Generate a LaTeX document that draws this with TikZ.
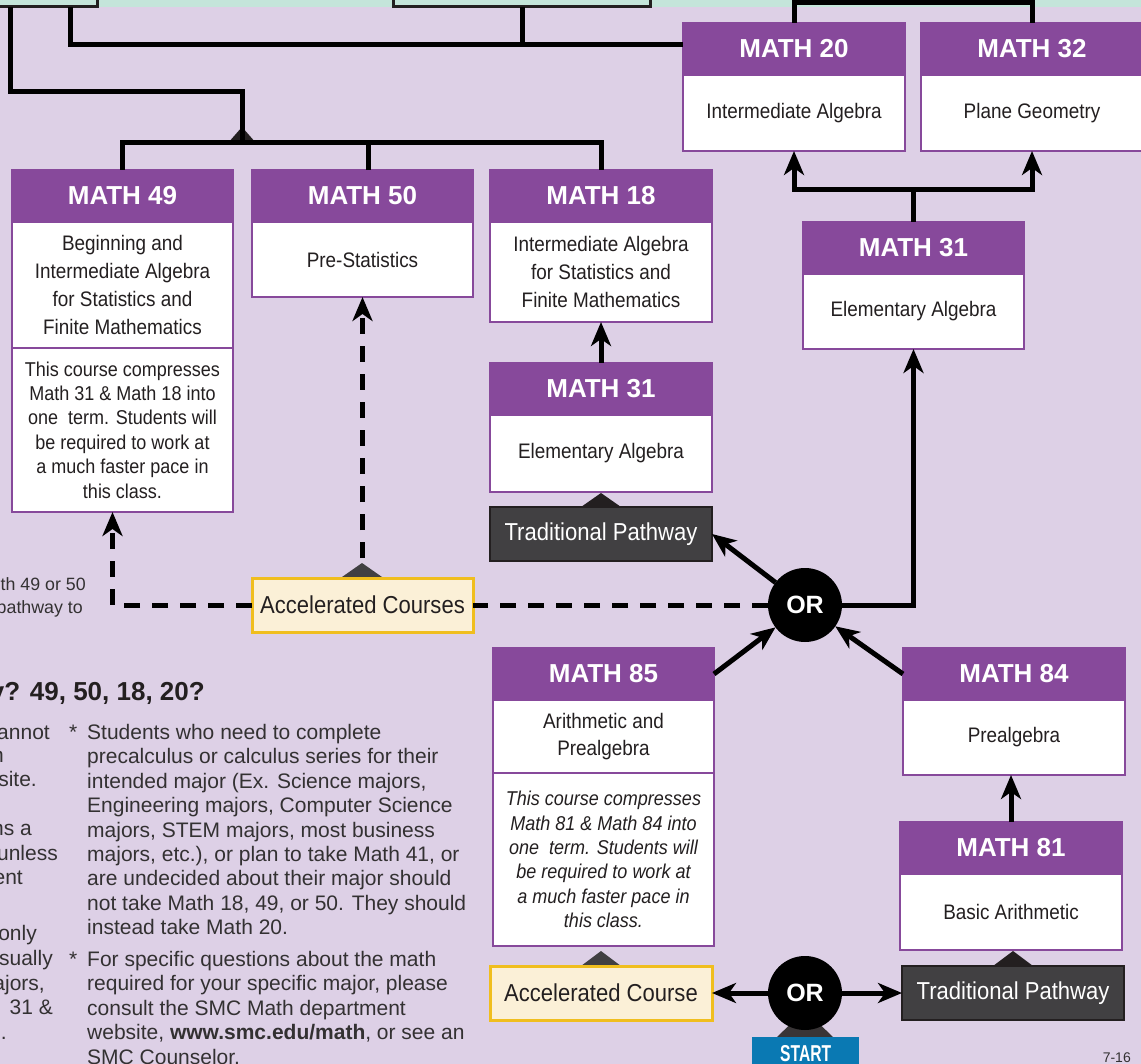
\documentclass[tikz,border=0pt]{standalone}
\usepackage{fontspec}
\setmainfont{Liberation Sans}
\newfontfamily\condfont{Liberation Sans}[FakeStretch=0.9]
\newfontfamily\startfont{Liberation Sans}[FakeStretch=0.68]
\usetikzlibrary{arrows.meta,calc}
\definecolor{bgc}{HTML}{DDD0E6}
\definecolor{mint}{HTML}{C4E5DA}
\definecolor{purp}{HTML}{87499B}
\definecolor{darkbox}{HTML}{414042}
\definecolor{cream}{HTML}{FBF0D7}
\definecolor{gold}{HTML}{F0BE1E}
\definecolor{startblue}{HTML}{0A79B3}
\definecolor{ink}{HTML}{231F20}
\definecolor{txt}{HTML}{333132}
\tikzset{
 hdr/.style={fill=purp, draw=purp, line width=2pt, text=white,
   font=\fontsize{26}{30}\selectfont\bfseries, inner sep=0pt, outer sep=0pt,
   anchor=north west, minimum height=52pt},
 bodybox/.style={fill=white, draw=purp, line width=2.5pt, text=ink,
   font=\condfont\fontsize{21}{27.7}\selectfont, align=center, inner sep=0pt,
   outer sep=0pt, anchor=north},
 notebox/.style={bodybox, font=\condfont\fontsize{20}{24.4}\selectfont},
 pathbox/.style={fill=darkbox, draw=ink, line width=2.5pt, text=white,
   font=\condfont\fontsize{24.5}{28}\selectfont, inner sep=0pt, outer sep=0pt,
   anchor=north west, minimum height=54pt, minimum width=222pt},
 accbox/.style={fill=cream, draw=gold, line width=3pt, text=ink,
   font=\condfont\fontsize{24.5}{28}\selectfont, inner sep=0pt, outer sep=0pt,
   anchor=north west, minimum height=54pt, minimum width=221pt},
 orc/.style={circle, fill=black, text=white, font=\fontsize{25}{28}\selectfont\bfseries,
   minimum size=74pt, inner sep=0pt, outer sep=0pt},
 topbox/.style={draw=ink, fill=mint, line width=3pt, inner sep=0pt, outer sep=0pt, anchor=south west},
 conn/.style={line width=5pt, draw=black},
 arr/.style={conn, -{Stealth[length=24pt, width=20pt, inset=7pt]}},
 dashline/.style={conn, dash pattern=on 16pt off 12pt},
 dasharr/.style={arr, dash pattern=on 16pt off 12pt},
 frag/.style={anchor=base east, inner sep=0pt, text=txt, font=\fontsize{21}{24.4}\selectfont},
 smallfrag/.style={anchor=base east, inner sep=0pt, text=txt, font=\fontsize{17.8}{24}\selectfont},
 note/.style={anchor=north west, inner sep=0pt, text=txt, align=left, font=\fontsize{21}{24.4}\selectfont},
}
\begin{document}
\begin{tikzpicture}[x=1pt,y=-1pt]
\useasboundingbox (0,0) rectangle (1141,1064);
\clip (0,0) rectangle (1141,1064);
\fill[bgc] (0,0) rectangle (1141,1064);
\fill[mint] (0,0) rectangle (1141,7);
\node[topbox, minimum width=102pt, minimum height=24pt] (tlbox) at (-5,7) {};
\node[topbox, minimum width=257pt, minimum height=24pt] (tmbox) at (393,7) {};
\coordinate (h45) at (0,45);
\coordinate (h92) at (0,92);
\coordinate (h143) at (0,143);

% ---- course boxes ----
\node[hdr, minimum width=222pt] (m20h) at (683,23) {MATH 20};
\node[bodybox, minimum width=222pt, minimum height=76pt] (m20b) at (m20h.south) {Intermediate Algebra};
\node[hdr, minimum width=222pt] (m32h) at (921,23) {MATH 32};
\node[bodybox, minimum width=222pt, minimum height=76pt] (m32b) at (m32h.south) {Plane Geometry};

\node[hdr, minimum width=221pt] (m49h) at (12,170) {MATH 49};
\node[bodybox, minimum width=221pt, minimum height=126pt] (m49b) at (m49h.south)
  {Beginning and\\Intermediate Algebra\\for Statistics and\\Finite Mathematics};
\node[notebox, minimum width=221pt, minimum height=164pt] (m49c) at (m49b.south)
  {This course compresses\\Math 31 \& Math 18 into\\one\ \ term. Students will\\be required to work at\\a much faster pace in\\this class.};

\node[hdr, minimum width=221pt] (m50h) at (252,170) {MATH 50};
\node[bodybox, minimum width=221pt, minimum height=75pt] (m50b) at (m50h.south) {Pre-Statistics};

\node[hdr, minimum width=222pt] (m18h) at (490,170) {MATH 18};
\node[bodybox, minimum width=222pt, minimum height=100pt] (m18b) at (m18h.south)
  {Intermediate Algebra\\for Statistics and\\Finite Mathematics};

\node[hdr, minimum width=221pt] (m31rh) at (803,222) {MATH 31};
\node[bodybox, minimum width=221pt, minimum height=75pt] (m31rb) at (m31rh.south) {Elementary Algebra};

\node[hdr, minimum width=222pt] (m31mh) at (490,363) {MATH 31};
\node[bodybox, minimum width=222pt, minimum height=77pt] (m31mb) at (m31mh.south) {Elementary Algebra};

\node[hdr, minimum width=221pt] (m85h) at (493,648) {MATH 85};
\node[bodybox, minimum width=221pt, minimum height=73pt] (m85b) at (m85h.south) {Arithmetic and\\Prealgebra};
\node[notebox, minimum width=221pt, minimum height=173pt, font=\condfont\itshape\fontsize{20}{24.4}\selectfont] (m85c) at (m85b.south)
  {This course compresses\\Math 81 \& Math 84 into\\one\ \ term. Students will\\be required to work at\\a much faster pace in\\this class.};

\node[hdr, minimum width=222pt] (m84h) at (903,648) {MATH 84};
\node[bodybox, minimum width=222pt, minimum height=75pt] (m84b) at (m84h.south) {Prealgebra};

\node[hdr, minimum width=222pt] (m81h) at (900,822) {MATH 81};
\node[bodybox, minimum width=222pt, minimum height=76pt] (m81b) at (m81h.south) {Basic Arithmetic};

% ---- triangles ----
\fill[ink] (228,143) -- (242,127) -- (256,143) -- cycle;
\fill[ink] (581,507) -- (601,493) -- (621,507) -- cycle;
\fill[darkbox] (342,577) -- (362,563) -- (382,577) -- cycle;
\fill[darkbox] (581,966) -- (601,951) -- (621,966) -- cycle;
\fill[ink] (993,966) -- (1013,951) -- (1033,966) -- cycle;
\fill[ink!90] (777,1037) -- (805,1010) -- (833,1037) -- cycle;

% ---- pathway labels ----
\node[pathbox] (tp1) at (490,507) {Traditional Pathway};
\node[accbox] (acc1) at (252,578) {Accelerated Courses};
\node[accbox, minimum width=222pt] (acc2) at (490,966) {Accelerated Course};
\node[pathbox] (tp2) at (902,966) {Traditional Pathway};
\node[orc] (or1) at (805,605) {OR};
\node[orc] (or2) at (805,993) {OR};
\node[fill=startblue, text=white, font=\startfont\bfseries\fontsize{23}{26}\selectfont,
  minimum width=107pt, minimum height=32pt, inner sep=0pt, anchor=north west] (start) at (752,1037) {START};

% ---- top connectors ----
\draw[conn] ($(tlbox.south west)+(15,0)$) |- (h92 -| 242,0) -- (242,143);
\draw[conn] (m49h.north) |- (m18h.north |- h143) -- (m18h.north);
\draw[conn] ($(m50h.north)+(6,0)$) -- ($(m50h.north)+(6,-27)$);
\draw[conn] ($(tlbox.south west)+(75,0)$) |- (m20h.west |- h45);
\draw[conn] ($(tmbox.south west)+(129,0)$) -- ($(tmbox.south west)+(129,38)$);
\draw[conn] (m20h.north) -- ++(0,-20) -| (m32h.north);
\draw[conn] (953,3) -- (953,-6);

% ---- arrows ----
\draw[conn] (m31rh.north) -- ++(0,-32) coordinate (j1);
\draw[arr] (j1) -| (m20b.south);
\draw[arr] (j1) -| (m32b.south);
\draw[arr] (or1.east) -| (m31rb.south);
\draw[arr] (or1) -- (tp1.east);
\draw[arr] (m85h.east) -- (or1);
\draw[arr] (m84h.west) -- (or1);
\draw[arr] (m31mh.north) -- (m18b.south);
\draw[arr] (m81h.north) -- (m81h.north |- m84b.south);
\draw[dashline] (or1.west) -- (acc1.east);
\draw[dasharr] (acc1.west) -| ($(m49c.south)+(-10,0)$);
\draw[dasharr] ($(acc1.north)+(0,-20)$) -- (m50b.south);
\draw[arr] (or2.west) -- (acc2.east);
\draw[arr] (or2.east) -- (tp2.west);

% ---- text fragments on the left ----
\node[smallfrag] (t1) at (86,590) {th 49 or 50};
\node[smallfrag] (t2) at (83,613) {pathway to};
\node[anchor=base east, inner sep=0pt, text=ink, font=\fontsize{26}{28}\selectfont\bfseries] (hd) at (205,700) {y? 49, 50, 18, 20?};
\node[frag] (f1) at (50,739) {annot};
\node[frag] (f2) at (4,762) {n};
\node[frag] (f3) at (37,786) {site.};
\node[frag] (f4) at (32,835) {ns a};
\node[frag] (f5) at (58,860) {unless};
\node[frag] (f6) at (23,884) {ent};
\node[frag] (f7) at (37,940) {only};
\node[frag] (f8) at (53,965) {sually};
\node[frag] (f9) at (45,990) {ajors,};
\node[frag] (f10) at (53,1014) {31 \&};
\node[frag] (f11) at (7,1039) {.};
\node[anchor=base west, inner sep=0pt, text=txt, font=\fontsize{21}{24.4}\selectfont] (s1) at (69,739) {*};
\node[anchor=base west, inner sep=0pt, text=txt, font=\fontsize{21}{24.4}\selectfont] (s2) at (69,966) {*};
\node[note] (n1) at (87,724) {Students who need to complete\\precalculus or calculus series for their\\intended major (Ex. Science majors,\\Engineering majors, Computer Science\\majors, STEM majors, most business\\majors, etc.), or plan to take Math 41, or\\are undecided about their major should\\not take Math 18, 49, or 50. They should\\instead take Math 20.};
\node[note] (n2) at (87,951) {For specific questions about the math\\required for your specific major, please\\consult the SMC Math department\\website, \textbf{www.smc.edu/math}, or see an\\SMC Counselor.};
\node[anchor=base east, inner sep=0pt, text=txt, font=\fontsize{14}{16}\selectfont] (pg) at (1131,1062) {7-16};
\end{tikzpicture}
\end{document}
